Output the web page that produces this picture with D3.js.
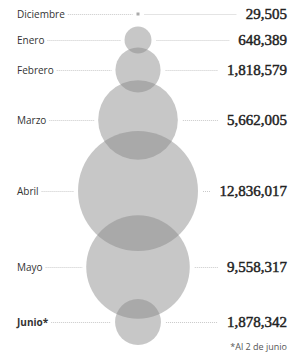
<!DOCTYPE html>
<html>
<head>
<meta charset="utf-8">
<script src="https://cdn.jsdelivr.net/npm/d3@7"></script>
<style>
  body { margin: 0; background: #fff; }
</style>
</head>
<body>
<script>
let months = ["Diciembre", "Enero", "Febrero", "Marzo", "Abril", "Mayo", "Junio*"];
let values = [29505, 648389, 1818579, 5662005, 12836017, 9558317, 1878342];
let footnote = "*Al 2 de junio";

// layout: vertical position of each row
let rowY = [14, 40, 70, 120, 191, 267, 322];

let width = 297;
let height = 358;
let centerX = 138;
let labelX = 17;
let valueX = 287;

let svg = d3.select("body").append("svg")
            .attr("width", width)
            .attr("height", height);

let r = d3.scaleSqrt()
          .domain([0, d3.max(values)])
          .range([0, 60]);

let fmt = d3.format(",");

let rows = months.map(function(m, i) {
  return { month: m, value: values[i], y: rowY[i], bold: i === months.length - 1 };
});

// circles
let marks = svg.append("g");
rows.forEach(function(d, i) {
  if (i === 0) {
    marks.append("rect")
         .attr("x", centerX - 1.5)
         .attr("y", d.y - 1.5)
         .attr("width", 3)
         .attr("height", 3)
         .attr("fill", "#aaa");
  } else {
    marks.append("circle")
         .attr("cx", centerX)
         .attr("cy", d.y)
         .attr("r", r(d.value))
         .attr("fill", "#888")
         .attr("fill-opacity", 0.47);
  }
});

// labels
let labels = svg.append("g").selectAll("text")
  .data(rows)
  .join("text")
  .attr("x", labelX)
  .attr("y", function(d) { return d.y; })
  .attr("dy", "0.35em")
  .attr("font-family", "Open Sans, sans-serif")
  .attr("font-size", 10)
  .attr("font-weight", function(d) { return d.bold ? 700 : 400; })
  .attr("fill", "#333")
  .text(function(d) { return d.month; });

let valueText = svg.append("g").selectAll("text")
  .data(rows)
  .join("text")
  .attr("x", valueX)
  .attr("y", function(d) { return d.y; })
  .attr("dy", "0.35em")
  .attr("text-anchor", "end")
  .attr("font-family", "Liberation Serif, serif")
  .attr("font-size", 15)
  .attr("fill", "#222")
  .attr("stroke", "#222")
  .attr("stroke-width", 0.45)
  .text(function(d) { return fmt(d.value); });

// dotted leaders
let leaders = svg.insert("g", ":first-child");
labels.each(function(d, i) {
  let lw = this.getComputedTextLength();
  let vw = valueText.nodes()[i].getComputedTextLength();
  let rad = i === 0 ? 1.5 : r(d.value);
  let segs = [
    [labelX + lw + 3, centerX - rad - 4],
    [centerX + rad + 5, valueX - vw - 9]
  ];
  segs.forEach(function(s) {
    leaders.append("line")
           .attr("x1", s[0]).attr("x2", s[1])
           .attr("y1", d.y + 0.5).attr("y2", d.y + 0.5)
           .attr("stroke", "#bbb")
           .attr("stroke-width", 0.8)
           .attr("stroke-dasharray", "1,1");
  });
});

svg.append("text")
   .attr("x", valueX)
   .attr("y", 350)
   .attr("text-anchor", "end")
   .attr("font-family", "Open Sans, sans-serif")
   .attr("font-size", 9)
   .attr("fill", "#555")
   .text(footnote);
</script>
</body>
</html>
